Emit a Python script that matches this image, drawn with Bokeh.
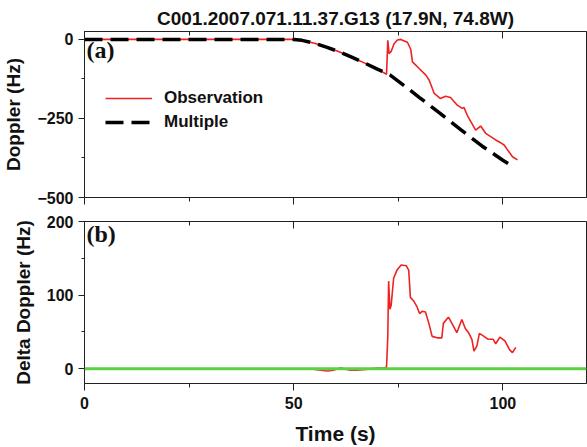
from bokeh.plotting import figure
from bokeh.layouts import column
from bokeh.models import Range1d, LinearAxis, FixedTicker, Legend, LegendItem, Label, Span
from bokeh.embed import file_html
from bokeh.resources import INLINE

TITLE = "C001.2007.071.11.37.G13 (17.9N, 74.8W)"

# Panel (a): Doppler
mult_t = [0, 50, 52, 55, 58, 61, 64, 67, 70, 73, 76, 80, 85, 90, 95, 100, 102.5]
mult_v = [0, 0, -3, -12, -25, -40, -57, -75, -94, -112, -142, -183, -234, -286, -337, -382, -403]

obs_t = [0, 50, 52, 55, 58, 61, 64, 67, 70, 72.2, 72.5, 72.8, 73.3, 74.0, 74.8, 75.6, 77.2, 78.0,
         78.4, 80.0, 81.6, 82.4, 83.6, 85.1, 86.3, 87.5, 89.1, 90.3, 90.7, 91.5, 93.5, 94.7,
         95.9, 98.3, 99.5, 100.3, 102.3, 103.5]
obs_v = [0, 0, -3, -12, -25, -40, -57, -75, -94, -110, -3, -45, -38, -14, -2, 0, -9, -32,
         -71, -92, -113, -129, -171, -187, -180, -184, -208, -218, -215, -240, -287, -274,
         -297, -318, -327, -334, -371, -381]

# Panel (b): Delta Doppler
delta_t = [55.0, 56.5, 58.0, 59.5, 60.5, 61.3, 62.0, 63.5, 65.0, 67.3, 68.5, 70.0, 71.5, 72.2,
           72.5, 72.7, 73.0, 73.3, 73.9, 74.7, 75.7, 76.9, 77.5, 77.9, 78.7, 79.5, 80.1, 80.7,
           81.5, 82.3, 83.1, 84.3, 85.4, 85.8, 87.0, 87.8, 89.0, 90.2, 91.0, 91.8, 92.6, 93.1,
           93.8, 94.4, 95.5, 96.5, 97.7, 98.3, 99.3, 100.5, 101.6, 102.3, 103.1]
delta_v = [-1, -2, -3, -2, 0, 1.5, 0, -2, -2, -1, 0, 1, 1, 2,
           44, 119, 81, 86, 123, 134, 141, 140, 134, 97, 92, 84, 75, 78,
           77, 62, 44, 42, 42, 62, 70, 62, 49, 67, 55, 49, 40, 24,
           31, 48, 44, 40, 40, 34, 43, 38, 26, 22, 29]
zero_level = 0

x_major = [0, 50, 100]
x_minor = [25, 75]
ya_major = [0, -250, -500]
ya_minor = [-125, -375]
yb_major = [0, 100, 200]
yb_minor = [50, 150]

FONT = "Liberation Sans"
AX = "#222222"
RED = "#ee2222"
GREEN = "#5fcf45"


def base_style(ax):
    ax.axis_line_color = AX
    ax.major_tick_line_color = AX
    ax.minor_tick_line_color = AX
    ax.major_label_text_font = FONT
    ax.major_label_text_font_style = "bold"
    ax.major_label_text_font_size = "16px"
    ax.major_label_text_color = "#111111"
    ax.axis_label_text_font = FONT
    ax.axis_label_text_font_style = "bold"
    ax.axis_label_text_font_size = "19px"
    ax.axis_label_text_color = "#111111"


def make_fig(height, top, bottom, yr, yt, ymt, ylabel, show_xlabels):
    p = figure(width=587, height=height, x_range=Range1d(0, 120), y_range=Range1d(*yr),
               x_axis_type=None, y_axis_type=None, output_backend="svg",
               toolbar_location=None, min_border_left=82, min_border_right=1,
               min_border_top=top, min_border_bottom=bottom)
    p.outline_line_color = AX
    p.outline_line_width = 1
    p.background_fill_color = "white"
    p.border_fill_color = "white"

    yax = LinearAxis(ticker=FixedTicker(ticks=yt, minor_ticks=ymt), axis_label=ylabel)
    base_style(yax)
    yax.major_tick_out = 6
    yax.major_tick_in = 0
    yax.minor_tick_out = 3
    yax.minor_tick_in = 0
    yax.major_label_standoff = 5
    yax.axis_label_standoff = 10
    p.add_layout(yax, "left")

    xb = LinearAxis(ticker=FixedTicker(ticks=x_major, minor_ticks=x_minor))
    base_style(xb)
    xb.major_tick_out = 7
    xb.major_tick_in = 0
    xb.minor_tick_out = 4
    xb.minor_tick_in = 0
    if show_xlabels:
        xb.axis_label = "Time (s)"
        xb.axis_label_text_font_size = "21px"
        xb.major_label_standoff = 6
        xb.axis_label_standoff = 10
    else:
        xb.major_label_text_color = None
        xb.major_label_standoff = 0
    p.add_layout(xb, "below")

    xt = LinearAxis(ticker=FixedTicker(ticks=x_major, minor_ticks=x_minor))
    base_style(xt)
    xt.major_tick_out = 0
    xt.major_tick_in = 7
    xt.minor_tick_out = 0
    xt.minor_tick_in = 4
    xt.major_label_text_color = None
    xt.major_label_standoff = 0
    p.add_layout(xt, "above")
    return p


p1 = make_fig(209, 31, 12, (-500, 25), ya_major, ya_minor, "Doppler (Hz)", False)
p1.title.text = TITLE
p1.title.align = "center"
p1.title.text_font = FONT
p1.title.text_font_style = "bold"
p1.title.text_font_size = "19px"
p1.title.text_color = "#111111"
p1.title.standoff = 5

r_obs = p1.line(obs_t, obs_v, line_color=RED, line_width=1.6)
r_mult = p1.line(mult_t, mult_v, line_color="black", line_width=3.5, line_dash="18 8")

legend = Legend(items=[LegendItem(label="Observation", renderers=[r_obs]),
                       LegendItem(label="Multiple", renderers=[r_mult])],
                location=(21, 65), border_line_color=None, background_fill_alpha=0,
                glyph_width=47, glyph_height=20, label_height=20, label_standoff=12,
                spacing=4, padding=4, margin=0, label_text_font=FONT,
                label_text_font_style="bold", label_text_font_size="17px",
                label_text_color="#111111")
p1.add_layout(legend)

p1.add_layout(Label(x=2, y=135, x_units="screen", y_units="screen", text="(a)",
                    text_font="Liberation Serif", text_font_style="bold",
                    text_font_size="24px", text_color="#111111"))

p2 = make_fig(238, 12, 59, (-20, 200), yb_major, yb_minor, "Delta Doppler (Hz)", True)
p2.line(delta_t, delta_v, line_color=RED, line_width=1.6)
p2.add_layout(Span(location=zero_level, dimension="width", line_color=GREEN, line_width=2.8))
p2.add_layout(Label(x=2, y=137, x_units="screen", y_units="screen", text="(b)",
                    text_font="Liberation Serif", text_font_style="bold",
                    text_font_size="24px", text_color="#111111"))

layout = column(p1, p2)
open("out.html", "w").write(file_html(layout, INLINE))
